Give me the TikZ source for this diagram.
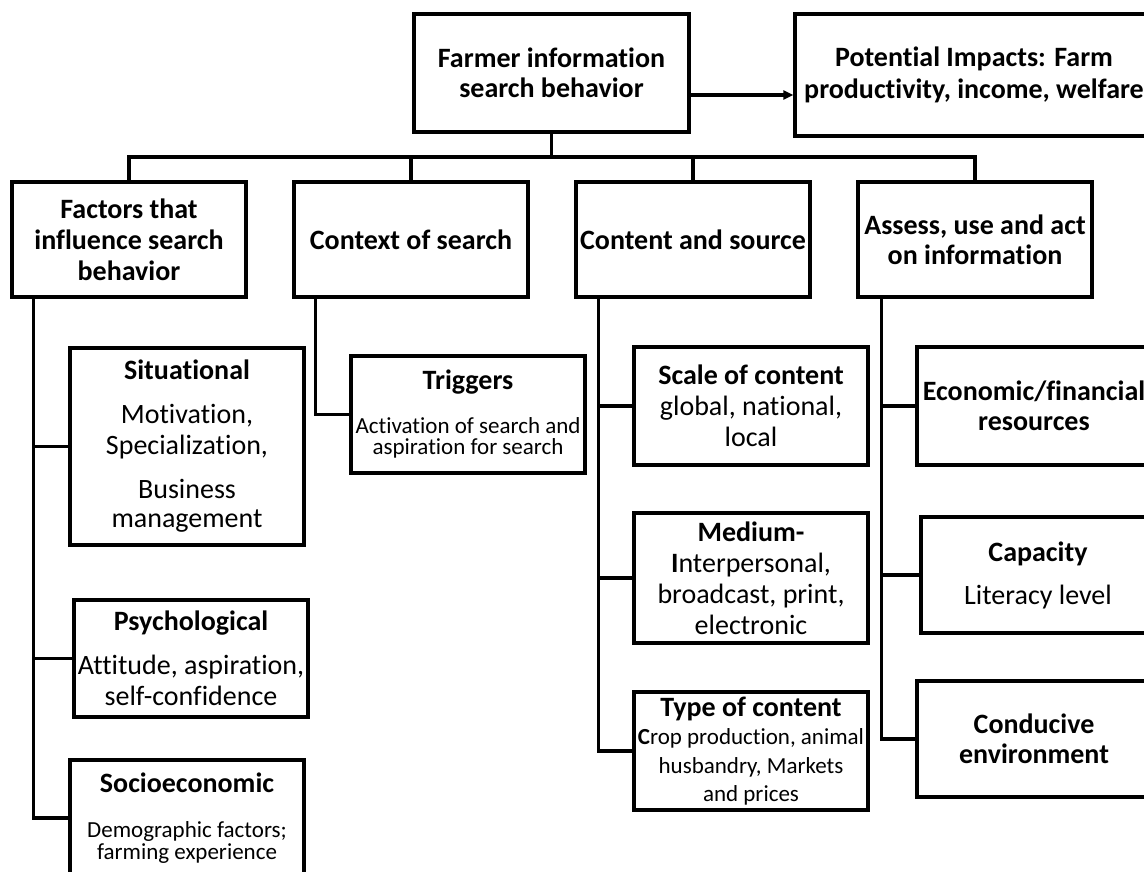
\documentclass[tikz,border=0pt]{standalone}
\usepackage{fontspec}
\setmainfont{Carlito}[Ligatures={NoCommon,NoRare,NoContextual}]
\usetikzlibrary{arrows.meta}
\newcommand{\sm}[1]{{\fontsize{23}{22}\selectfont #1}}
\begin{document}
\begin{tikzpicture}[x=1pt,y=-1pt,
  box/.style={draw, line width=3.2pt, inner sep=0pt, minimum width=234pt, align=center,
    font=\fontsize{28}{31}\selectfont},
  bbox/.style={box, font=\fontsize{28}{31}\selectfont\bfseries},
  conn/.style={line width=3.2pt, line join=miter}]
\clip (0,0) rectangle (1144,872);
\fill[white] (0,0) rectangle (1144,872);
\coordinate (bus) at (0,157);

% top level
\node[bbox, minimum width=275pt, minimum height=118pt] (top) at (551.5,73) {Farmer information\\[-1pt]search behavior};
\node[bbox, minimum width=358pt, minimum height=122pt] (pot) at (974,75) {Potential Impacts: Farm\\[1pt]productivity, income, welfare};

% first row
\node[bbox, minimum height=115pt] (fac) at (129,239.5) {Factors that\\influence search\\behavior};
\node[bbox, minimum height=115pt] (ctx) at (411,239.5) {Context of search};
\node[bbox, minimum height=115pt] (cnt) at (693,239.5) {Content and source};
\node[bbox, minimum height=115pt] (asr) at (975,239.5) {Assess, use and act\\[-1pt]on information};

% factors column
\node[box, minimum height=197pt] (sit) at (187,446.5) {\textbf{Situational}\\[13pt]Motivation,\\Specialization,\\[13pt]Business\\[-2pt]management};
\node[box, minimum height=117pt] (psy) at (191,658.5) {\textbf{Psychological}\\[13pt]Attitude, aspiration,\\self-confidence};
\node[box, minimum height=116pt] (soc) at (187,818) {\textbf{Socioeconomic}\\[14pt]\sm{Demographic factors;}\\[-9pt]\sm{farming experience}};

% context column
\node[box, minimum height=117pt] (trg) at (468,414.5) {\textbf{Triggers}\\[13pt]\sm{Activation of search and}\\[-10pt]\sm{aspiration for search}};

% content column
\node[box, minimum height=118pt] (scl) at (751,406) {\textbf{Scale of content}\\global, national,\\local};
\node[box, minimum height=130pt] (med) at (751,578) {\textbf{Medium-}\\\textbf{I}nterpersonal,\\broadcast, print,\\electronic};
\node[box, minimum height=118pt] (typ) at (751,751) {\textbf{Type of content}\\[-3pt]\sm{\textbf{C}rop production, animal}\\[-2pt]\sm{husbandry, Markets}\\[-3pt]\sm{and prices}};

% assess column
\node[bbox, minimum height=118pt] (eco) at (1034,406) {Economic/financial\\[-1pt]resources};
\node[box, minimum height=116pt] (cap) at (1038,575) {\textbf{Capacity}\\[12pt]Literacy level};
\node[bbox, minimum height=116pt] (con) at (1034,739) {Conducive\\[-1pt]environment};

% connectors
\draw[conn, -{Triangle[length=10pt,width=9pt]}] ([yshift=-22pt]top.east) -- ([yshift=-22pt]top.east -| pot.west);
\draw[conn] (top.south) -- (top.south |- bus);
\draw[conn] (fac.north) -- (fac.north |- bus) -- (asr.north |- bus) -- (asr.north);
\draw[conn] (ctx.north) -- (ctx.north |- bus);
\draw[conn] (cnt.north) -- (cnt.north |- bus);

\coordinate (facsp) at ([xshift=23pt]fac.south west);
\coordinate (ctxsp) at ([xshift=23pt]ctx.south west);
\coordinate (cntsp) at ([xshift=24pt]cnt.south west);
\coordinate (asrsp) at ([xshift=25pt]asr.south west);

\draw[conn] (facsp) |- (soc.west);
\draw[conn] (facsp |- sit.west) -- (sit.west);
\draw[conn] (facsp |- psy.west) -- (psy.west);
\draw[conn] (ctxsp) |- (trg.west);
\draw[conn] (cntsp) |- (typ.west);
\draw[conn] (cntsp |- scl.west) -- (scl.west);
\draw[conn] (cntsp |- med.west) -- (med.west);
\draw[conn] (asrsp) |- (con.west);
\draw[conn] (asrsp |- eco.west) -- (eco.west);
\draw[conn] (asrsp |- cap.west) -- (cap.west);
\end{tikzpicture}
\end{document}
